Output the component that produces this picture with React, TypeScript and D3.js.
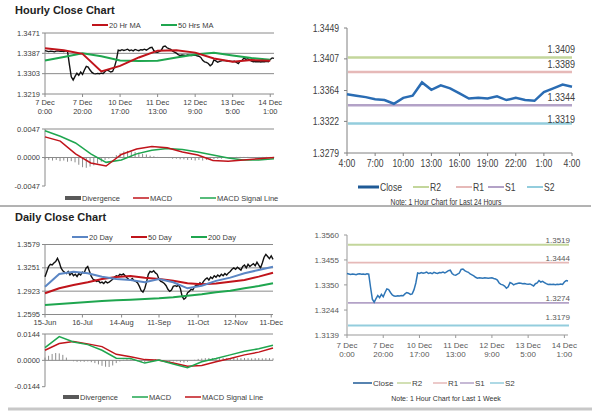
import React from "react";
import * as d3 from "d3";

// hourly close, 7 Dec 0:00 .. 14 Dec ~3:00 (one value per hourly bar)
const hourlyClose = [
  1.3398, 1.3396, 1.3394, 1.3396, 1.3395, 1.3393, 1.3396, 1.3397, 1.3395, 1.3396, 1.3394, 1.3397, 1.3395,
  1.334, 1.329, 1.3277, 1.3292, 1.3305, 1.3296, 1.331, 1.33, 1.3318, 1.3333, 1.333, 1.3318, 1.3308,
  1.3303, 1.3302, 1.3304, 1.3303, 1.3305, 1.3304, 1.3312, 1.3318, 1.3315, 1.331, 1.3312, 1.333, 1.3358, 1.34,
  1.3398, 1.3402, 1.3399, 1.3401, 1.3404, 1.3398, 1.3401, 1.3397, 1.3403, 1.34, 1.3398, 1.3402, 1.3401, 1.3404,
  1.34, 1.3405, 1.341, 1.3412, 1.3398, 1.3392, 1.3391, 1.3395, 1.34, 1.3415, 1.3417, 1.341, 1.3406, 1.3403,
  1.3396, 1.3392, 1.3388, 1.3382, 1.3378, 1.338, 1.3379, 1.3378, 1.338, 1.3379, 1.3378, 1.3379, 1.338,
  1.3377, 1.3375, 1.337, 1.3358, 1.3352, 1.335, 1.3345, 1.3336, 1.3342, 1.336, 1.3356, 1.335, 1.3354, 1.3356,
  1.3358, 1.3357, 1.3355, 1.3356, 1.3354, 1.3353, 1.3354, 1.335, 1.3345, 1.3355, 1.3358, 1.3368, 1.3362,
  1.3365, 1.336, 1.3355, 1.3352, 1.3353, 1.3352, 1.3353, 1.3351, 1.3353, 1.3352, 1.3354, 1.3352, 1.3362,
  1.3368, 1.3366,
];
const hourTickIdx = [0, 20, 40, 60, 80, 100, 120];
const hourTickDay = ["7 Dec", "7 Dec", "10 Dec", "11 Dec", "12 Dec", "13 Dec", "14 Dec"];
const hourTickTime = ["0:00", "20:00", "17:00", "13:00", "9:00", "5:00", "1:00"];
const hourYTicks = [1.3471, 1.3387, 1.3303, 1.3219];

// moving averages, one value every 10 bars
const ma20Hr = [1.3408, 1.34, 1.3385, 1.3312, 1.3335, 1.337, 1.3398, 1.34, 1.339, 1.3366, 1.3352, 1.3359, 1.3356];
const ma50Hr = [1.3357, 1.3372, 1.3387, 1.3375, 1.3357, 1.3355, 1.3356, 1.337, 1.3382, 1.3389, 1.3378, 1.3368, 1.336];

// hourly MACD (16 points over the range) and divergence (every 2nd bar)
const macdHr = [0.0034, 0.0027, 0.0006, -0.0009, -0.0014, 0.0005, 0.0014, 0.0018, 0.0016, 0.0009, 0.0004, -0.0005, -0.0006, -0.0004, -0.0002, 0.0];
const signalHr = [0.0044, 0.0035, 0.0024, 0.0006, -0.0008, -0.0004, 0.0006, 0.0012, 0.0015, 0.0013, 0.0009, 0.0004, -0.0001, -0.0004, -0.0004, -0.0002];
const divHr = [
  -0.0003, -0.0004, -0.0005, -0.0004, -0.0006, -0.0005, -0.0007, -0.0006, -0.0008, -0.0012, -0.0016, -0.0017,
  -0.0015, -0.0013, -0.001, -0.0007, -0.0004, -0.0002, 0.0001, 0.0004, 0.0007, 0.001, 0.0011, 0.001, 0.0009,
  0.0008, 0.0006, 0.0005, 0.0003, 0.0002, 0.0001, 0.0, 0.0, -0.0001, -0.0002, -0.0002, -0.0003, -0.0003,
  -0.0004, -0.0004, -0.0005, -0.0004, -0.0005, -0.0004, -0.0003, -0.0003, -0.0002, -0.0002, -0.0001, -0.0001,
  0.0, 0.0001, 0.0001, 0.0001, 0.0001, 0.0, 0.0, 0.0001, 0.0001, 0.0001, 0.0001, 0.0001,
];
const hourMacdTicks = [0.0047, 0.0, -0.0047];

// last 24 hours
const close24 = [
  1.3359, 1.3357, 1.3355, 1.3352, 1.3351, 1.3346, 1.3354, 1.3357, 1.3375, 1.3365, 1.3371, 1.3367, 1.336,
  1.3353, 1.3354, 1.3353, 1.3356, 1.3351, 1.3354, 1.3351, 1.335, 1.3362, 1.3367, 1.3372, 1.3369,
];
const hours24 = ["4:00", "7:00", "10:00", "13:00", "16:00", "19:00", "22:00", "1:00", "4:00"];
const levelNames = ["R2", "R1", "S1", "S2"];
const levelColors = ["#c3d69b", "#e6b9b8", "#b3a2c7", "#93cddd"];
const levels24 = [1.3409, 1.3389, 1.3344, 1.3319];
const y24Ticks = [1.3449, 1.3407, 1.3364, 1.3322, 1.3279];

// last week levels
const levelsWeek = [1.3519, 1.3444, 1.3274, 1.3179];
const yWeekTicks = [1.356, 1.3455, 1.335, 1.3244, 1.3139];

// daily close, 15 Jun .. 11 Dec
const dailyClose = [
  1.3127, 1.3197, 1.3267, 1.33, 1.3291, 1.332, 1.334, 1.3385, 1.333, 1.325, 1.321, 1.319, 1.317, 1.32, 1.315,
  1.318, 1.314, 1.316, 1.313, 1.317, 1.315, 1.319, 1.318, 1.3245, 1.327, 1.32, 1.313, 1.309, 1.308, 1.306,
  1.307, 1.304, 1.305, 1.303, 1.306, 1.304, 1.305, 1.307, 1.309, 1.312, 1.314, 1.313, 1.316, 1.315, 1.3165,
  1.314, 1.311, 1.309, 1.308, 1.31, 1.307, 1.306, 1.304, 1.299, 1.293, 1.291, 1.296, 1.305, 1.316, 1.32,
  1.319, 1.321, 1.318, 1.316, 1.309, 1.306, 1.305, 1.303, 1.3, 1.295, 1.292, 1.294, 1.299, 1.3, 1.299, 1.301,
  1.296, 1.285, 1.281, 1.283, 1.29, 1.292, 1.295, 1.294, 1.299, 1.301, 1.3, 1.304, 1.302, 1.306, 1.309, 1.311,
  1.308, 1.312, 1.31, 1.314, 1.312, 1.315, 1.313, 1.316, 1.314, 1.317, 1.315, 1.318, 1.32, 1.323, 1.325,
  1.323, 1.326, 1.324, 1.322, 1.327, 1.329, 1.325, 1.33, 1.327, 1.329, 1.331, 1.328, 1.333, 1.329, 1.325,
  1.332, 1.34, 1.344, 1.341, 1.338, 1.342, 1.337,
];
const dayTickIdx = [0, 21, 43, 64, 86, 107, 127];
const dayTickLabels = ["15-Jun", "16-Jul", "14-Aug", "11-Sep", "11-Oct", "12-Nov", "11-Dec"];
const dayYTicks = [1.3579, 1.3251, 1.2923, 1.2595];

// daily moving averages, one value every 8 days
const ma20Day = [1.2986, 1.3165, 1.3197, 1.3174, 1.3127, 1.3095, 1.308, 1.3048, 1.3095, 1.3048, 1.2963, 1.3, 1.3068, 1.3113, 1.3174, 1.3221, 1.3267];
const ma50Day = [1.2893, 1.2963, 1.301, 1.3048, 1.3095, 1.3122, 1.3137, 1.3113, 1.3095, 1.3068, 1.3034, 1.302, 1.303, 1.3056, 1.308, 1.3127, 1.3183];
const ma200Day = [1.2729, 1.2743, 1.2757, 1.2771, 1.2785, 1.2794, 1.2804, 1.2813, 1.2822, 1.2836, 1.286, 1.2879, 1.2907, 1.293, 1.2963, 1.2996, 1.3034];

// daily MACD every 8 days, divergence every 2 days
const macdDay = [0.007, 0.013, 0.01, 0.0086, 0.0055, 0.0012, 0.001, -0.0015, 0.0002, -0.002, -0.004, -0.0008, 0.001, 0.003, 0.005, 0.0063, 0.0083];
const signalDay = [0.0055, 0.0092, 0.0103, 0.009, 0.0075, 0.0033, 0.002, 0.0004, 0.0, -0.0015, -0.0032, -0.0028, -0.0008, 0.001, 0.003, 0.0045, 0.0068];
const divDay = [
  0.0015, 0.0025, 0.0035, 0.004, 0.0038, 0.003, 0.0015, 0.0, -0.0005, -0.0008, -0.0007, -0.0008, -0.0006,
  -0.001, -0.0015, -0.0022, -0.003, -0.0035, -0.0036, -0.0028, -0.0015, -0.0006, 0.0003, 0.0006, 0.0004,
  0.0002, -0.0005, -0.001, -0.0012, -0.0004, 0.0005, 0.0006, 0.0003, -0.0002, -0.0005, -0.0008, -0.0006,
  -0.0006, -0.001, -0.0012, -0.0008, -0.0002, 0.0003, 0.0008, 0.001, 0.0012, 0.0013, 0.0012, 0.0011, 0.0012,
  0.0013, 0.0012, 0.0012, 0.0013, 0.0012, 0.0012, 0.0013, 0.0012, 0.0011, 0.0012, 0.0012, 0.0011, 0.0012,
  0.0012, 0.0011,
];
const dayMacdTicks = [0.0144, 0.0, -0.0144];

const FONT = "'Liberation Sans', Arial, sans-serif";
const RED = "#c0141b";
const GREEN = "#1fa64f";
const BLUE = "#5b86c4";
const GRID = "#8a8a8a";
const LABEL = "#404040";
const SQUEEZE = 0.82; // fake "Arial Narrow"

const spread = (n: number, last: number) => d3.range(n).map((k) => (k * last) / (n - 1));

const path = (vals: number[], idx: number[], x: any, y: any) =>
  d3.line<number>().x((_, i) => x(idx[i])).y((v) => y(v))(vals) || "";

const fmt = (v: number) => v.toFixed(4);

// condensed text: scale around the anchor point
function NText({ x, y, size, anchor = "start", fill = LABEL, children }: any) {
  return (
    <text
      transform={`translate(${x},${y}) scale(${SQUEEZE},1)`}
      textAnchor={anchor}
      fontSize={size}
      fill={fill}
      fontFamily={FONT}
    >
      {children}
    </text>
  );
}

// left-side chart frame: left axis, horizontal grid lines, y labels
function LeftFrame({ x, y, ticks, grid }: any) {
  const [x0, x1] = x.range();
  const [yb, yt] = y.range();
  return (
    <g>
      {ticks.map((t: number, i: number) => (
        <g key={i}>
          {grid.includes(t) && <line x1={x0} x2={x1} y1={y(t)} y2={y(t)} stroke={GRID} strokeWidth={1} />}
          <line x1={x0 - 3} x2={x0} y1={y(t)} y2={y(t)} stroke={GRID} />
          <text x={x0 - 5} y={y(t) + 2.6} textAnchor="end" fontSize={7.5} fill={LABEL} fontFamily={FONT}>
            {fmt(t)}
          </text>
        </g>
      ))}
      <line x1={x0} x2={x0} y1={yt} y2={yb} stroke={GRID} />
    </g>
  );
}

function Bars({ vals, idx, x, y }: any) {
  return (
    <g>
      {vals.map((v: number, i: number) => (
        <line key={i} x1={x(idx[i])} x2={x(idx[i])} y1={y(0)} y2={y(v)} stroke="#8c8c8c" strokeWidth={1} />
      ))}
    </g>
  );
}

function LegendLine({ x, y, color, label, w = 16, sw = 2, size = 7.5, narrow = false }: any) {
  return (
    <g>
      <line x1={x} x2={x + w} y1={y} y2={y} stroke={color} strokeWidth={sw} />
      {narrow ? (
        <NText x={x + w + 1} y={y + size * 0.36} size={size}>
          {label}
        </NText>
      ) : (
        <text x={x + w + 1} y={y + size * 0.35} fontSize={size} fill={LABEL} fontFamily={FONT}>
          {label}
        </text>
      )}
    </g>
  );
}

function LegendBox({ x, y, label }: any) {
  return (
    <g>
      <rect x={x} y={y - 2} width={16} height={4} fill="#595959" />
      <text x={x + 17} y={y + 2.6} fontSize={7.5} fill={LABEL} fontFamily={FONT}>
        {label}
      </text>
    </g>
  );
}

export default function App() {
  // ---- top-left hourly chart ----
  const xH = d3.scaleLinear().domain([0, hourlyClose.length - 1]).range([45, 274]);
  const yH = d3.scaleLinear().domain([1.3219, 1.3471]).range([94, 33]);
  const hIdx = d3.range(hourlyClose.length);
  const yHM = d3.scaleLinear().domain([-0.0047, 0.0047]).range([186, 129]);

  // ---- top-right 24h chart ----
  const x24 = d3.scaleLinear().domain([0, close24.length - 1]).range([347, 572]);
  const y24 = d3.scaleLinear().domain([1.3279, 1.3449]).range([153, 28]);

  // ---- bottom-left daily chart ----
  const xD = d3.scaleLinear().domain([0, dailyClose.length - 1]).range([45, 273]);
  const yD = d3.scaleLinear().domain([1.2595, 1.3579]).range([314.5, 244.5]);
  const yDM = d3.scaleLinear().domain([-0.0144, 0.0144]).range([386.7, 334]);

  // ---- bottom-right week chart ----
  const xW = d3.scaleLinear().domain([0, hourlyClose.length - 1]).range([347, 568]);
  const yW = d3.scaleLinear().domain([1.3139, 1.356]).range([335, 235]);

  return (
    <svg width={600} height={413} style={{ position: "fixed", left: 0, top: 0, background: "#fff" }}>
      <rect width={600} height={413} fill="#fff" />

      {/* ===== Hourly Close Chart ===== */}
      <text x={15} y={14} fontSize={11} fontWeight="bold" fill="#222" fontFamily={FONT}>
        Hourly Close Chart
      </text>
      <LegendLine x={92} y={25} color={RED} label="20 Hr MA" />
      <LegendLine x={161} y={25} color={GREEN} label="50 Hrs MA" />
      <LeftFrame x={xH} y={yH} ticks={hourYTicks} grid={hourYTicks} />
      {hourTickIdx.map((t, i) => (
        <g key={i}>
          <line x1={xH(t)} x2={xH(t)} y1={94} y2={97} stroke={GRID} />
          <text x={xH(t)} y={105} textAnchor="middle" fontSize={7.5} fill={LABEL} fontFamily={FONT}>
            {hourTickDay[i]}
          </text>
          <text x={xH(t)} y={114} textAnchor="middle" fontSize={7.5} fill={LABEL} fontFamily={FONT}>
            {hourTickTime[i]}
          </text>
        </g>
      ))}
      <path d={path(hourlyClose, hIdx, xH, yH)} fill="none" stroke="#111" strokeWidth={1.4} />
      <path d={path(ma50Hr, spread(ma50Hr.length, 120), xH, yH)} fill="none" stroke={GREEN} strokeWidth={2} />
      <path d={path(ma20Hr, spread(ma20Hr.length, 120), xH, yH)} fill="none" stroke={RED} strokeWidth={2} />

      {/* hourly MACD */}
      <LeftFrame x={xH} y={yHM} ticks={hourMacdTicks} grid={[0.0047, 0]} />
      <Bars vals={divHr} idx={spread(divHr.length, hourlyClose.length - 1)} x={xH} y={yHM} />
      <path d={path(signalHr, spread(signalHr.length, hourlyClose.length - 1), xH, yHM)} fill="none" stroke={GREEN} strokeWidth={1.5} />
      <path d={path(macdHr, spread(macdHr.length, hourlyClose.length - 1), xH, yHM)} fill="none" stroke={RED} strokeWidth={1.5} />
      <LegendBox x={65} y={198} label="Divergence" />
      <LegendLine x={133} y={198} color={RED} label="MACD" sw={1.5} />
      <LegendLine x={200} y={198} color={GREEN} label="MACD Signal Line" sw={1.5} />

      {/* ===== last 24 hours ===== */}
      <line x1={347} x2={347} y1={28} y2={153} stroke="#808080" />
      <line x1={347} x2={572} y1={153} y2={153} stroke="#808080" />
      {y24Ticks.map((t, i) => (
        <g key={i}>
          <line x1={344} x2={347} y1={y24(t)} y2={y24(t)} stroke="#808080" />
          <NText x={339} y={y24(t) + 3.6} size={10.5} anchor="end">
            {fmt(t)}
          </NText>
        </g>
      ))}
      {hours24.map((h, i) => (
        <g key={i}>
          <line x1={x24(i * 3)} x2={x24(i * 3)} y1={153} y2={156} stroke="#808080" />
          <NText x={x24(i * 3)} y={167} size={10.5} anchor="middle">
            {h}
          </NText>
        </g>
      ))}
      {levels24.map((v, i) => (
        <g key={i}>
          <line x1={348} x2={572} y1={y24(v)} y2={y24(v)} stroke={levelColors[i]} strokeWidth={2.5} />
          <NText x={575} y={y24(v) - (i === 3 ? 1 : 4)} size={11} anchor="end">
            {fmt(v)}
          </NText>
        </g>
      ))}
      <path d={path(close24, d3.range(close24.length), x24, y24)} fill="none" stroke="#2a6cb3" strokeWidth={2.5} />
      <LegendLine x={358} y={187} color="#1f5a96" label="Close" w={21} sw={3} size={10.5} narrow />
      {levelNames.map((n, i) => (
        <LegendLine key={n} x={[413, 456, 488, 527][i]} y={187} color={levelColors[i]} label={n} w={16} sw={2} size={10.5} narrow />
      ))}
      <NText x={446} y={204.5} size={8.3} anchor="middle" fill="#333">
        Note: 1 Hour Chart for Last 24 Hours
      </NText>

      {/* separator */}
      <line x1={0} x2={591} y1={206} y2={206} stroke="#666" strokeWidth={1} />

      {/* ===== Daily Close Chart ===== */}
      <text x={15} y={221} fontSize={11} fontWeight="bold" fill="#222" fontFamily={FONT}>
        Daily Close Chart
      </text>
      <LegendLine x={72} y={237} color={BLUE} label="20 Day" />
      <LegendLine x={131} y={237} color={RED} label="50 Day" />
      <LegendLine x={191} y={237} color={GREEN} label="200 Day" />
      <LeftFrame x={xD} y={yD} ticks={dayYTicks} grid={dayYTicks} />
      {dayTickIdx.map((t, i) => (
        <g key={i}>
          <line x1={xD(t)} x2={xD(t)} y1={314.5} y2={317.5} stroke={GRID} />
          <text x={xD(t)} y={325} textAnchor="middle" fontSize={7.5} fill={LABEL} fontFamily={FONT}>
            {dayTickLabels[i]}
          </text>
        </g>
      ))}
      <path d={path(dailyClose, d3.range(dailyClose.length), xD, yD)} fill="none" stroke="#111" strokeWidth={1.4} />
      <path d={path(ma200Day, spread(ma200Day.length, dailyClose.length - 1), xD, yD)} fill="none" stroke={GREEN} strokeWidth={2} />
      <path d={path(ma50Day, spread(ma50Day.length, dailyClose.length - 1), xD, yD)} fill="none" stroke={RED} strokeWidth={2} />
      <path d={path(ma20Day, spread(ma20Day.length, dailyClose.length - 1), xD, yD)} fill="none" stroke={BLUE} strokeWidth={2} />

      {/* daily MACD */}
      <LeftFrame x={xD} y={yDM} ticks={dayMacdTicks} grid={[0.0144, 0]} />
      <Bars vals={divDay} idx={spread(divDay.length, dailyClose.length - 1)} x={xD} y={yDM} />
      <path d={path(signalDay, spread(signalDay.length, dailyClose.length - 1), xD, yDM)} fill="none" stroke={RED} strokeWidth={1.5} />
      <path d={path(macdDay, spread(macdDay.length, dailyClose.length - 1), xD, yDM)} fill="none" stroke={GREEN} strokeWidth={1.5} />
      <LegendBox x={63} y={397} label="Divergence" />
      <LegendLine x={132} y={397} color={GREEN} label="MACD" sw={1.5} />
      <LegendLine x={185} y={397} color={RED} label="MACD Signal Line" sw={1.5} />

      {/* ===== last week ===== */}
      <line x1={347} x2={347} y1={235} y2={335} stroke="#999" />
      <line x1={347} x2={568} y1={335} y2={335} stroke="#999" />
      {yWeekTicks.map((t, i) => (
        <g key={i}>
          <line x1={344} x2={347} y1={yW(t)} y2={yW(t)} stroke="#999" />
          <text x={339} y={yW(t) + 2.8} textAnchor="end" fontSize={8} fill="#595959" fontFamily={FONT}>
            {fmt(t)}
          </text>
        </g>
      ))}
      {hourTickIdx.map((t, i) => (
        <g key={i}>
          <line x1={xW(t)} x2={xW(t)} y1={335} y2={338} stroke="#999" />
          <text x={xW(t)} y={348} textAnchor="middle" fontSize={8} fill="#595959" fontFamily={FONT}>
            {hourTickDay[i]}
          </text>
          <text x={xW(t)} y={357} textAnchor="middle" fontSize={8} fill="#595959" fontFamily={FONT}>
            {hourTickTime[i]}
          </text>
        </g>
      ))}
      {levelsWeek.map((v, i) => (
        <g key={i}>
          <line x1={348} x2={569} y1={yW(v)} y2={yW(v)} stroke={levelColors[i]} strokeWidth={1.8} />
          <text x={570} y={yW(v) - (i === 3 ? 5 : 2)} textAnchor="end" fontSize={8} fill="#595959" fontFamily={FONT}>
            {fmt(v)}
          </text>
        </g>
      ))}
      <path d={path(hourlyClose, hIdx, xW, yW)} fill="none" stroke="#2e75b6" strokeWidth={1.5} />
      <LegendLine x={353} y={383} color="#1f5a96" label="Close" w={19} sw={1.5} size={8} />
      {levelNames.map((n, i) => (
        <LegendLine key={n} x={[397, 433, 460, 490][i]} y={383} color={levelColors[i]} label={n} w={14} sw={1.5} size={8} />
      ))}
      <text x={446} y={401} textAnchor="middle" fontSize={7} fill="#333" fontFamily={FONT}>
        Note: 1 Hour Chart for  Last 1 Week
      </text>

      {/* bottom band */}
      <line x1={8} x2={592} y1={409} y2={409} stroke="#c8c8c8" strokeWidth={3} />
    </svg>
  );
}
